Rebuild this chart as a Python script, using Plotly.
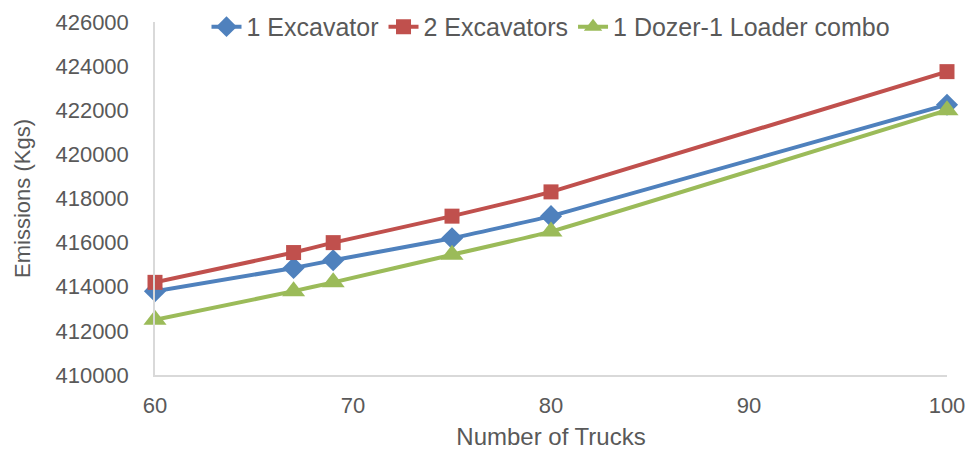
import plotly.graph_objects as go

trucks = [60, 67, 69, 75, 80, 100]
one_excavator = [413800, 414850, 415200, 416200, 417200, 422250]
two_excavators = [414200, 415550, 416000, 417200, 418300, 423750]
dozer_loader = [412500, 413800, 414200, 415450, 416500, 422000]

series = [
    ("1 Excavator", one_excavator, "#4F81BD", "diamond", 17),
    ("2 Excavators", two_excavators, "#C0504D", "square", 15),
    ("1 Dozer-1 Loader combo", dozer_loader, "#9BBB59", "triangle-up", 20),
]

fig = go.Figure()
for name, vals, color, symbol, size in series:
    fig.add_trace(go.Scatter(
        x=trucks, y=vals, name=name, mode="lines+markers", cliponaxis=False,
        line=dict(color=color, width=4, shape="spline", smoothing=0.3),
        marker=dict(symbol=symbol, size=size, color=color),
    ))

font_color = "#595959"
fig.update_layout(
    width=971, height=450,
    margin=dict(l=155, r=24, t=22, b=75, autoexpand=False),
    paper_bgcolor="white", plot_bgcolor="white",
    font=dict(family="Liberation Sans, Arial, sans-serif", size=20, color=font_color),
    legend=dict(orientation="h", x=0.5, xanchor="center", y=0.986, yanchor="middle",
                bgcolor="rgba(0,0,0,0)", tracegroupgap=0,
                font=dict(size=25, color=font_color)),
    xaxis=dict(range=[60, 100], dtick=10, showgrid=False, zeroline=False,
               showline=True, linecolor="#D9D9D9", linewidth=1.5, automargin=False,
               ticks="", ticklabelstandoff=10, tickfont=dict(size=22),
               title=dict(text="Number of Trucks", standoff=14,
                          font=dict(size=24, color=font_color))),
    yaxis=dict(range=[410000, 426000], dtick=2000, showgrid=False, zeroline=False,
               showline=True, linecolor="#D9D9D9", linewidth=1.5, automargin=False,
               ticks="", tickformat="d", ticklabelstandoff=20, tickfont=dict(size=22),
               title=dict(text="Emissions (Kgs)", standoff=19,
                          font=dict(size=22, color=font_color))),
)

fig.write_html("out.html")
